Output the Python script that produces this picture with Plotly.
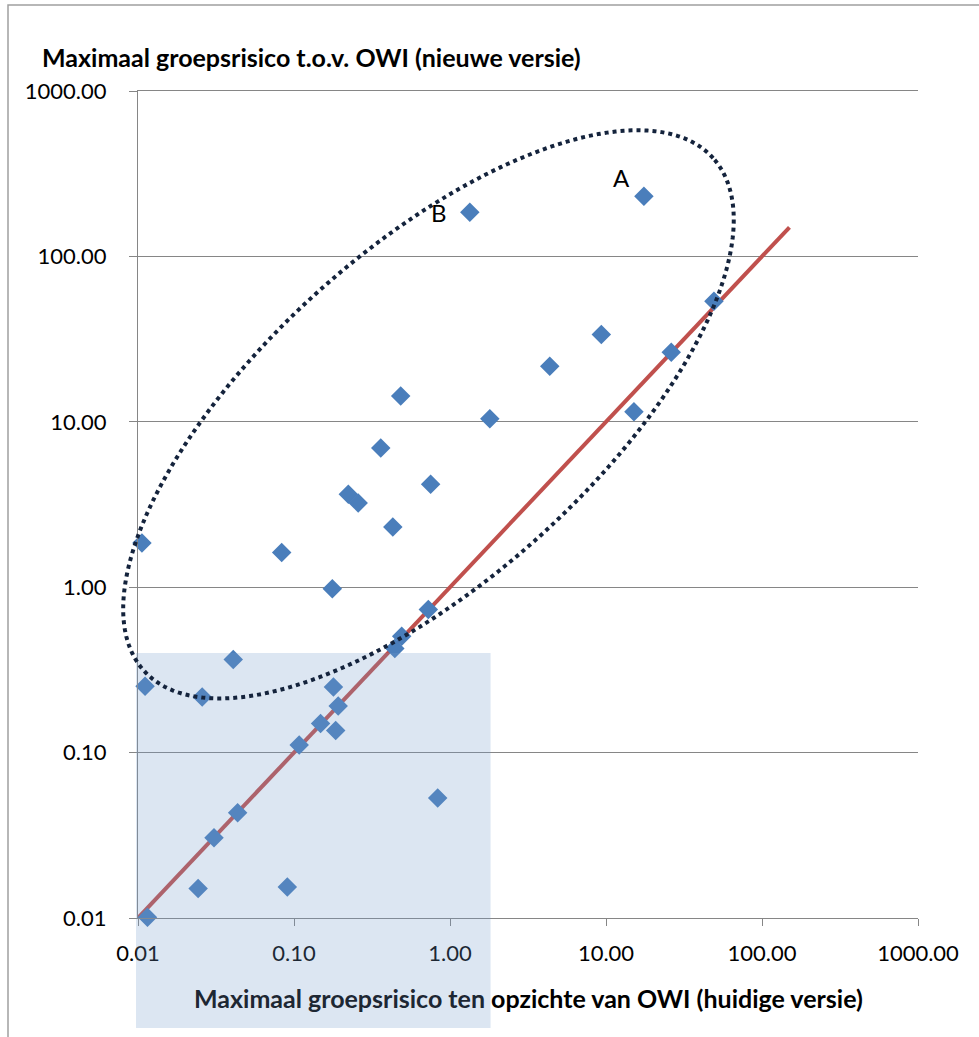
import numpy as np
import plotly.graph_objects as go

# ---- data ----
huidige_versie = [0.0106, 0.0834, 0.176, 0.430, 0.726, 0.490, 0.443, 0.0111, 0.0408,
                  0.0258, 0.179, 0.192, 0.148, 0.185, 0.108, 0.834, 0.0435, 0.0307,
                  0.0243, 0.0906, 0.0115, 1.34, 17.5, 49.2, 9.33, 26.2, 4.36, 0.483,
                  1.80, 15.1, 0.360, 0.751, 0.223, 0.258]
nieuwe_versie = [1.85, 1.62, 0.98, 2.31, 0.732, 0.505, 0.426, 0.252, 0.365,
                 0.217, 0.249, 0.191, 0.150, 0.136, 0.111, 0.0531, 0.0433, 0.0306,
                 0.0151, 0.0154, 0.0101, 185, 231, 53.5, 33.7, 26.3, 21.7, 14.3,
                 10.45, 11.5, 6.94, 4.19, 3.65, 3.23]
diagonal = [0.01, 150]
tick_vals = [0.01, 0.1, 1, 10, 100, 1000]
tick_text = ["0.01", "0.10", "1.00", "10.00", "100.00", "1000.00"]
labels = ["A", "B"]
label_x = [12.6, 0.854]
label_y = [299, 183]
region_x = [0.01, 1.82]   # shaded region (huidige versie)
region_ymax = 0.40

# ---- layout geometry ----
W, H = 979, 1037
ML, MR, MT, MB = 138, 61, 91, 119
PW, PH = W - ML - MR, H - MT - MB
LOG0, LOG1 = -2, 3

def frac(v):
    return (np.log10(v) - LOG0) / (LOG1 - LOG0)

font = "Lato"
fig = go.Figure()

fig.add_trace(go.Scatter(x=diagonal, y=diagonal, mode="lines",
                         line=dict(color="#C0504D", width=4), hoverinfo="skip",
                         showlegend=False))
fig.add_trace(go.Scatter(x=huidige_versie, y=nieuwe_versie, mode="markers",
                         marker=dict(symbol="diamond", size=15, color="#4A7EBB"),
                         cliponaxis=False, showlegend=False))

# chart frame
fig.add_shape(type="rect", xref="paper", yref="paper",
              x0=(8 - ML) / PW, x1=1.3, y0=-0.3, y1=(PH + MT - 5) / PH,
              line=dict(color="#A0A0A0", width=1.5), fillcolor="rgba(0,0,0,0)",
              layer="below")

# translucent shaded rectangle (drawn over the chart, extends below the axis)
fig.add_shape(type="rect", xref="paper", yref="paper",
              x0=frac(region_x[0]) - 2 / PW, x1=frac(region_x[1]),
              y0=-110 / PH, y1=frac(region_ymax),
              fillcolor="rgba(115,155,203,0.25)", line=dict(width=0), layer="above")

# dotted ellipse (centre in log10 units, axes in screen pixels)
cx, cy = -0.138, 1.045
a_px, b_px, theta = 383, 165, np.deg2rad(42.0)
t = np.linspace(0, 2 * np.pi, 361)
dxp = a_px * np.cos(t) * np.cos(theta) - b_px * np.sin(t) * np.sin(theta)
dyp = a_px * np.cos(t) * np.sin(theta) + b_px * np.sin(t) * np.cos(theta)
ex = (cx - LOG0) / (LOG1 - LOG0) + dxp / PW
ey = (cy - LOG0) / (LOG1 - LOG0) + dyp / PH
path = "M " + " L ".join(f"{x:.5f},{y:.5f}" for x, y in zip(ex, ey)) + " Z"
fig.add_shape(type="path", xref="paper", yref="paper", path=path,
              line=dict(color="#14233C", width=4, dash="dot"), layer="above")

for lab, lx, ly in zip(labels, label_x, label_y):
    fig.add_annotation(x=np.log10(lx), y=np.log10(ly), text=lab, showarrow=False,
                       font=dict(family=font, size=24, color="black"))

fig.add_annotation(xref="paper", yref="paper", x=(40 - ML) / PW, y=(PH + MT - 57) / PH,
                   xanchor="left", yanchor="middle", showarrow=False,
                   text="<b>Maximaal groepsrisico t.o.v. OWI (nieuwe versie)</b>",
                   font=dict(family=font, size=25, color="black"))
fig.add_annotation(xref="paper", yref="paper", x=0.5, y=-(998 - MT - PH) / PH,
                   xanchor="center", yanchor="middle", showarrow=False,
                   text="<b><span style='color:#1D2733'>Maximaal groepsrisico ten</span>"
                        " opzichte van OWI (huidige versie)</b>",
                   font=dict(family=font, size=25, color="black"))

axis_common = dict(type="log", range=[LOG0, LOG1], tickvals=tick_vals, ticktext=tick_text,
                   showline=True, linecolor="#868686", linewidth=1.3,
                   ticks="outside", tickcolor="#868686", tickwidth=1.3,
                   tickfont=dict(family=font, size=22, color="black"),
                   zeroline=False)
fig.update_xaxes(**axis_common, showgrid=False, ticklen=7, mirror=True,
                 ticklabelstandoff=8)
fig.update_yaxes(**axis_common, showgrid=True, gridcolor="#868686", gridwidth=1.3,
                 ticklen=8, ticklabelstandoff=18)

fig.update_layout(width=W, height=H, margin=dict(l=ML, r=MR, t=MT, b=MB),
                  paper_bgcolor="white", plot_bgcolor="white", showlegend=False,
                  font=dict(family=font))

fig.write_html("out.html", config={"displayModeBar": False},
               post_script="document.body.style.margin='0px';"
                           "document.body.style.overflow='hidden';")
